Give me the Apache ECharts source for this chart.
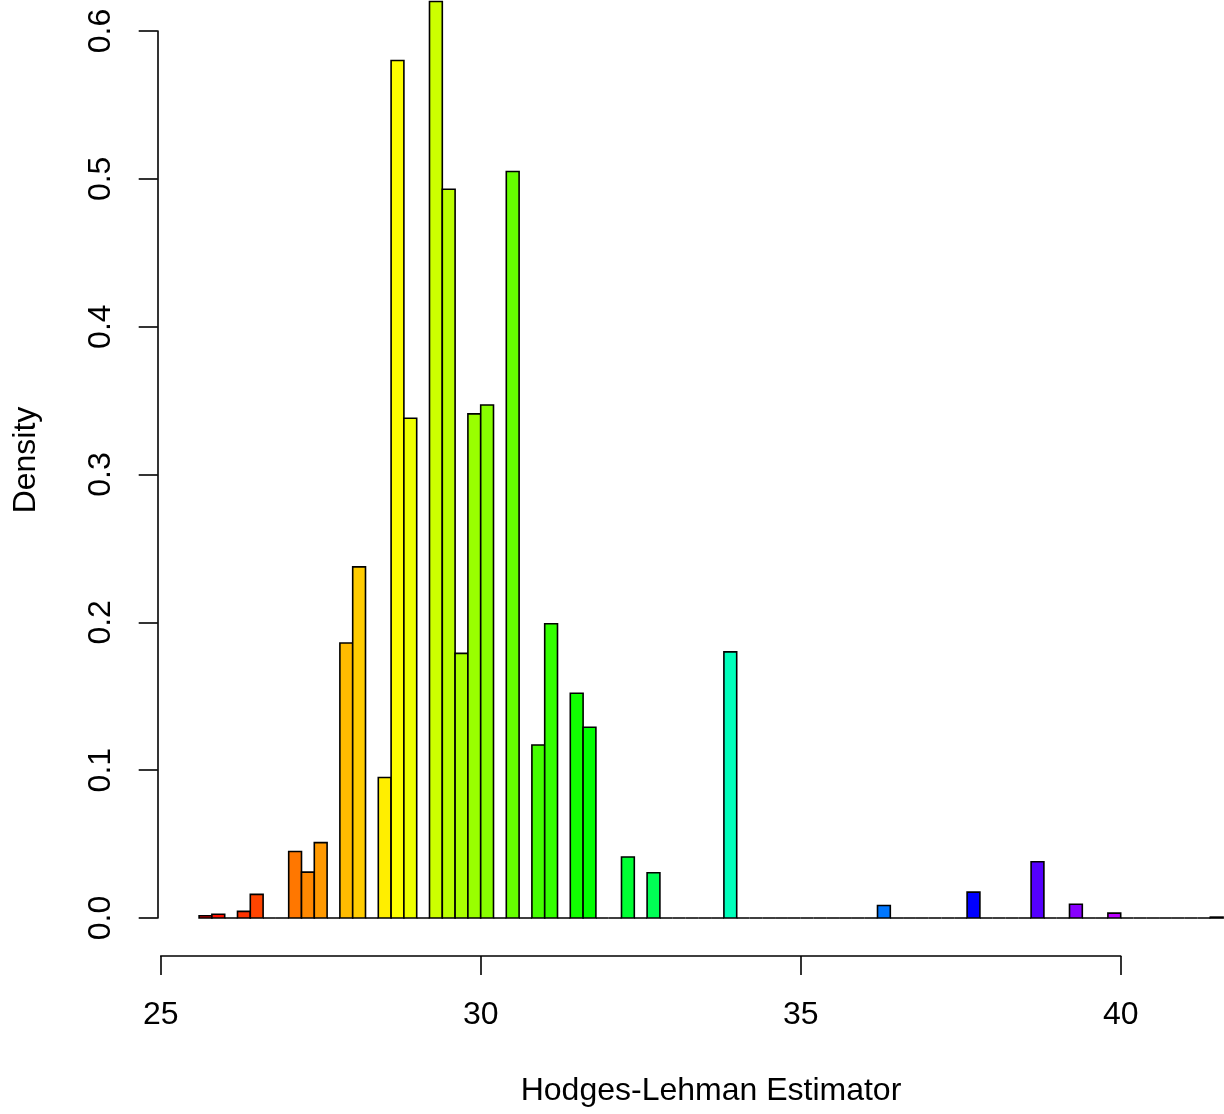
<!DOCTYPE html>
<html>
<head>
<meta charset="utf-8">
<script src="https://cdn.jsdelivr.net/npm/echarts@6/dist/echarts.min.js"></script>
<style>
html,body{margin:0;padding:0;background:#fff;}
#chart{width:1224px;height:1114px;}
</style>
</head>
<body>
<div id="chart"></div>
<script>
// Histogram bin breaks (width 0.2)
const breaks = [25.6,25.8,26.0,26.2,26.4,26.6,26.8,27.0,27.2,27.4,27.6,27.8,28.0,28.2,28.4,28.6,28.8,29.0,29.2,29.4,
  29.6,29.8,30.0,30.2,30.4,30.6,30.8,31.0,31.2,31.4,31.6,31.8,32.0,32.2,32.4,32.6,32.8,33.0,33.2,33.4,
  33.6,33.8,34.0,34.2,34.4,34.6,34.8,35.0,35.2,35.4,35.6,35.8,36.0,36.2,36.4,36.6,36.8,37.0,37.2,37.4,
  37.6,37.8,38.0,38.2,38.4,38.6,38.8,39.0,39.2,39.4,39.6,39.8,40.0,40.2,40.4,40.6,40.8,41.0,41.2,41.4,41.6];
// Density per bin
const density = [0.0015,0.0025,0,0.0045,0.016,0,0,0.045,0.031,0.051,
  0,0.186,0.2375,0,0.095,0.58,0.338,0,0.62,0.493,
  0.179,0.341,0.347,0,0.505,0,0.117,0.199,0,0.152,
  0.129,0,0,0.0413,0,0.0306,0,0,0,0,
  0,0.18,0,0,0,0,0,0,0,0,
  0,0,0,0.0085,0,0,0,0,0,0,
  0.0175,0,0,0,0,0.038,0,0,0.0093,0,
  0,0.0033,0,0,0,0,0,0,0,0.0006];
const xTicks = [25,30,35,40];
const yTicks = [0,0.1,0.2,0.3,0.4,0.5,0.6];
const xTitle = 'Hodges-Lehman Estimator';
const yTitle = 'Density';

const FONT = 'Liberation Sans, Arial, Helvetica, sans-serif';
const chart = echarts.init(document.getElementById('chart'), null, {renderer:'canvas'});
const items = density.map((d,i)=>[breaks[i], breaks[i+1], d, i]);

chart.setOption({
  animation:false,
  backgroundColor:'#ffffff',
  grid:{left:160.7, right:103.3, top:31, bottom:196, containLabel:false, outerBoundsMode:'none'},
  graphic:[
    {type:'text', silent:true, x:711, y:1091,
     style:{text:xTitle, x:0, y:0, align:'center', verticalAlign:'middle', fontSize:32, fill:'#000', fontFamily:FONT}},
    {type:'text', silent:true, x:26, y:460, rotation:Math.PI/2,
     style:{text:yTitle, x:0, y:0, align:'center', verticalAlign:'middle', fontSize:32, fill:'#000', fontFamily:FONT}}
  ],
  xAxis:{
    type:'value', min:xTicks[0], max:xTicks[xTicks.length-1], interval:5,
    position:'bottom', offset:38,
    axisLine:{show:true, onZero:false, lineStyle:{color:'#000', width:1.6}},
    axisTick:{show:true, length:19, lineStyle:{color:'#000', width:1.6}},
    axisLabel:{fontSize:32, color:'#000', fontFamily:FONT, margin:43},
    splitLine:{show:false}
  },
  yAxis:{
    type:'value', min:yTicks[0], max:yTicks[yTicks.length-1], interval:0.1,
    position:'left', offset:3,
    axisLine:{show:true, onZero:false, lineStyle:{color:'#000', width:1.6}},
    axisTick:{show:true, length:19, lineStyle:{color:'#000', width:1.6}},
    axisLabel:{fontSize:32, color:'#000', fontFamily:FONT, rotate:90, margin:41,
      formatter:v=>v.toFixed(1)},
    splitLine:{show:false}
  },
  series:[{
    type:'custom',
    clip:false,
    data:items,
    encode:{x:[0,1], y:2},
    renderItem:function(params, api){
      const x0 = api.value(0), x1 = api.value(1), y = api.value(2), idx = api.value(3);
      const p0 = api.coord([x0, y]);
      const p1 = api.coord([x1, 0]);
      return {
        type:'rect',
        shape:{x:p0[0], y:p0[1], width:p1[0]-p0[0], height:p1[1]-p0[1]},
        style:{fill:'hsl(' + (idx*4) + ',100%,50%)', stroke:'#000', lineWidth:1.6}
      };
    }
  }]
});
</script>
</body>
</html>
